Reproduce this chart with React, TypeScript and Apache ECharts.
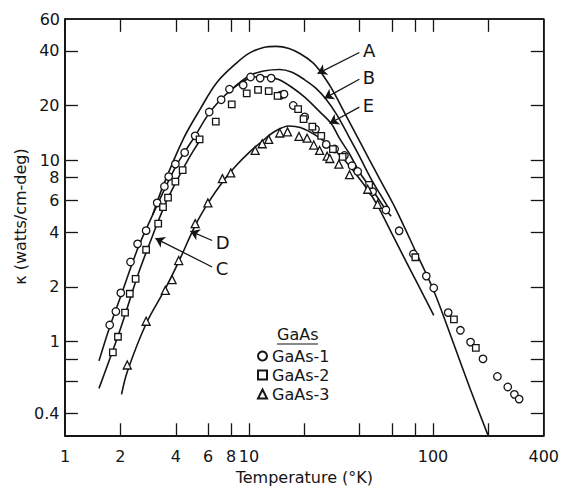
import React, { useEffect, useRef } from "react";
import * as echarts from "echarts";

const FONT = "DejaVu Sans";
const INK = "#151515";

// layout
const W = 562;
const H = 490;
const GRID = { left: 65, right: 16, top: 19, bottom: 49 };
const TICK_LEN = 13;

// axis ranges, ticks and labels
const X_MIN = 1;
const X_MAX = 400;
const Y_MIN = 0.3;
const Y_MAX = 60;
const xTickValues = [2, 4, 6, 8, 10, 20, 40, 60, 80, 100, 200];
const yTickValues = [0.4, 0.6, 0.8, 1, 2, 4, 6, 8, 10, 20, 40];
// labels not produced by the log axis itself (it gives 1, 10, 100, 400 and 1, 10, 60)
const xExtraLabels = [2, 4, 6, 8];
const yExtraLabels = [0.4, 2, 4, 6, 8, 20, 40];

// measured data  [T (K), kappa]
const gaas1 = [
  [1.75, 1.23], [1.89, 1.46], [2.01, 1.85], [2.27, 2.74], [2.48, 3.45], [2.76, 4.08],
  [3.17, 5.8], [3.47, 7.15], [3.66, 8.1], [3.98, 9.5], [4.47, 11.0], [5.1, 13.6],
  [6.08, 18.4], [7.06, 21.5], [7.83, 24.6], [9.3, 25.9], [10.2, 28.7], [11.5, 28.3],
  [13.2, 28.3], [14.9, 22.8], [15.5, 23.1], [17.4, 20.0], [20.1, 17.3], [23.0, 14.8],
  [26.3, 12.2], [29.2, 11.5], [33.0, 10.6], [36.3, 9.3], [39.0, 8.65], [47, 6.7],
  [55.5, 5.3], [65.5, 4.07], [78.3, 3.03], [92, 2.29], [101, 1.97], [121, 1.44],
  [141, 1.15], [160, 0.99], [187, 0.8], [224, 0.64], [255, 0.56], [277, 0.51], [294, 0.48],
];
const gaas2 = [
  [1.82, 0.87], [1.94, 1.06], [2.12, 1.44], [2.25, 1.83], [2.42, 2.21], [2.76, 3.2],
  [3.21, 4.46], [3.41, 5.5], [3.63, 6.2], [3.98, 7.6], [4.36, 8.8], [5.39, 13.0],
  [6.6, 16.3], [8.06, 20.3], [9.72, 23.3], [11.2, 24.4], [12.8, 24.0], [14.3, 22.6],
  [18.5, 19.1], [19.8, 16.8], [22.1, 15.3], [24.7, 13.6], [28.6, 11.5], [32.3, 10.4],
  [45, 7.3], [80.2, 2.91], [130, 1.32], [171, 0.92],
];
const gaas3 = [
  [2.18, 0.74], [2.76, 1.29], [3.51, 1.91], [3.82, 2.19], [4.15, 2.79], [5.1, 4.46],
  [5.98, 5.8], [7.17, 7.9], [7.96, 8.5], [10.8, 11.3], [11.8, 12.3], [12.8, 13.0],
  [14.7, 14.1], [16.2, 14.3], [18.7, 13.5], [20.7, 13.2], [22.5, 12.1], [24.2, 11.3],
  [26.6, 10.5], [27.5, 10.2], [30.8, 9.5], [35.2, 8.3], [44.2, 6.9], [50, 5.7],
];

// computed curves
const curveA = [
  [3.0, 5.0], [3.43, 7.3], [4.4, 13.1], [5.43, 19.1], [6.69, 26.8], [8.58, 34.4],
  [10.1, 39], [12, 41.8], [14.1, 42.4], [16.5, 41.3], [19, 38.6], [22.3, 34.4],
  [24.2, 31.2], [28, 25], [33.7, 17.6], [39, 13.3], [45, 10.1], [51.2, 7.9],
  [62.6, 5.4], [80.9, 3.1], [101, 1.9], [130, 0.96], [160, 0.54], [200, 0.3],
];
const curveB = [
  [8.0, 24.4], [9.0, 27.0], [10.1, 29.3], [12, 31.0], [14.7, 31.6], [17, 30.6],
  [20, 27.8], [23, 25], [26.3, 21.6], [30, 17.8], [35, 13.4], [40, 10.4],
  [46, 7.9], [52, 6.4], [57.6, 5.4],
];
const curveE = [
  [1.53, 0.78], [1.75, 1.2], [2.0, 1.75], [2.5, 3.3], [3.0, 5.0], [3.5, 7.0],
  [4.0, 9.2], [4.5, 11.2], [5.1, 13.6], [6.0, 17.8], [7.0, 21.5], [8.0, 24.4],
  [9.0, 26.6], [10.2, 28.4], [11.5, 28.9], [13.0, 28.6], [14.5, 27.8], [17, 25.3],
  [20, 22.3], [24.2, 18.5], [28, 15.9], [31, 13.2], [35, 10.9], [40.7, 8.3],
  [48, 6.6], [55.5, 5.3], [59.3, 4.9],
];
const curveC = [
  [1.53, 0.55], [2.0, 1.17], [2.5, 2.35], [3.0, 3.85], [3.5, 5.7], [4.0, 7.5],
  [4.5, 9.4], [5.0, 11.3], [5.5, 13.1],
];
const curveD = [
  [2.03, 0.51], [2.18, 0.68], [2.76, 1.25], [3.51, 1.95], [4.15, 2.75], [5.1, 4.35],
  [6.0, 5.8], [7.2, 7.6], [8.5, 9.3], [10, 11.0], [12, 12.9], [14, 14.5],
  [16.5, 15.4], [19, 15.1], [23.3, 13.6], [28, 11.8], [33, 10.0], [38, 8.4],
  [44, 6.9], [50, 5.6], [60, 3.9], [75, 2.5], [90, 1.75], [101, 1.39],
];

// annotation arrows (label, from, to) in data units
const annLabels = ["A", "B", "E", "D", "C"];
const annFrom = [[39.8, 39.2], [39.8, 27.9], [39.8, 19.6], [6.31, 3.6], [6.31, 2.57]];
const annTo = [[23.6, 30.0], [25.7, 21.9], [27.4, 15.9], [4.8, 4.05], [3.1, 3.7]];

const fmt = (v: number) => String(Number(Number(v).toPrecision(3)));

// tick length expressed as a multiplicative factor along each log axis
const pxPerDecX = (W - GRID.left - GRID.right) / Math.log10(X_MAX / X_MIN);
const pxPerDecY = (H - GRID.top - GRID.bottom) / Math.log10(Y_MAX / Y_MIN);
const kX = Math.pow(10, TICK_LEN / pxPerDecX);
const kY = Math.pow(10, TICK_LEN / pxPerDecY);

function seg(a: number[], b: number[], width: number) {
  return [{ coord: a, lineStyle: { width } }, { coord: b }];
}

const frameSegments = [
  seg([X_MIN, Y_MIN], [X_MAX, Y_MIN], 1.5),
  seg([X_MIN, Y_MAX], [X_MAX, Y_MAX], 1.5),
  seg([X_MIN, Y_MIN], [X_MIN, Y_MAX], 1.5),
  seg([X_MAX, Y_MIN], [X_MAX, Y_MAX], 1.5),
  ...xTickValues.map((v) => seg([v, Y_MIN], [v, Y_MIN * kY], 1.3)),
  ...xTickValues.map((v) => seg([v, Y_MAX], [v, Y_MAX / kY], 1.3)),
  ...yTickValues.map((v) => seg([X_MIN, v], [X_MIN * kX, v], 1.3)),
  ...yTickValues.map((v) => seg([X_MAX, v], [X_MAX / kX, v], 1.3)),
];

function logAxis(extra: any) {
  return {
    type: "log",
    logBase: 10,
    splitLine: { show: false },
    minorTick: { show: false },
    minorSplitLine: { show: false },
    axisTick: { show: false },
    axisLine: { show: true, onZero: false, lineStyle: { color: INK, width: 1.5 } },
    ...extra,
  };
}

function curve(data: number[][], extra: any = {}) {
  return {
    type: "line",
    data,
    symbol: "none",
    showSymbol: false,
    smooth: 0.35,
    silent: true,
    z: 2,
    lineStyle: { color: INK, width: 1.6 },
    ...extra,
  };
}

function points(name: string, data: number[][], symbol: string, size: number) {
  return {
    type: "scatter",
    name,
    data,
    symbol,
    symbolSize: size,
    silent: true,
    z: 4,
    itemStyle: { color: "#ffffff", borderColor: INK, borderWidth: 1.3, opacity: 1 },
  };
}

export default function App() {
  const ref = useRef<HTMLDivElement>(null);
  useEffect(() => {
    const chart = echarts.init(ref.current!, null, { renderer: "svg" });
    const labelText = { fontFamily: FONT, fontSize: 16, color: INK };
    const option: any = {
      animation: false,
      textStyle: { fontFamily: FONT },
      grid: {
        ...GRID,
        containLabel: false,
        show: true,
        borderColor: INK,
        borderWidth: 1.5,
        backgroundColor: "rgba(0,0,0,0)",
      },
      xAxis: logAxis({
        min: X_MIN,
        max: X_MAX,
        position: "bottom",
        name: "Temperature (°K)",
        nameLocation: "middle",
        nameGap: 28,
        nameTextStyle: { fontFamily: FONT, fontSize: 16, color: INK },
        axisLabel: { show: true, margin: 12, ...labelText, formatter: fmt },
      }),
      yAxis: logAxis({
        min: Y_MIN,
        max: Y_MAX,
        position: "left",
        name: "κ (watts/cm-deg)",
        nameLocation: "middle",
        nameRotate: 90,
        nameGap: 26,
        nameTextStyle: { fontFamily: FONT, fontSize: 16, color: INK, padding: [0, 0, 0, 22] },
        axisLabel: {
          show: true,
          margin: 5,
          ...labelText,
          formatter: (v: number) => (v < 0.35 ? "" : fmt(v)),
        },
      }),
      legend: {
        data: ["GaAs-1", "GaAs-2", "GaAs-3"],
        orient: "vertical",
        left: 257,
        top: 348,
        padding: 0,
        itemGap: 3,
        itemWidth: 9,
        itemHeight: 9,
        selectedMode: false,
        textStyle: { fontFamily: FONT, fontSize: 16, color: INK },
      },
      graphic: [
        { type: "text", left: 277, top: 326, style: { text: "GaAs", font: `16px "${FONT}"`, fill: INK } },
        { type: "line", shape: { x1: 277, y1: 344, x2: 318, y2: 344 }, style: { stroke: INK, lineWidth: 1.2 } },
      ],
      series: [
        curve(curveA, {
          markLine: {
            silent: true,
            symbol: ["none", "arrow"],
            symbolSize: 9,
            lineStyle: { color: INK, width: 1.3, type: "solid" },
            label: {
              show: true,
              position: "start",
              formatter: "{b}",
              fontFamily: FONT,
              fontSize: 18,
              color: INK,
              distance: 4,
            },
            data: annLabels.map((n, i) => [
              { name: n, coord: annFrom[i] },
              { coord: annTo[i] },
            ]),
          },
        }),
        curve(curveB),
        curve(curveE),
        curve(curveC),
        curve(curveD, {
          clip: false,
          markPoint: {
            silent: true,
            symbol: "circle",
            symbolSize: 1,
            itemStyle: { color: "rgba(0,0,0,0)" },
            label: { show: true, formatter: "{b}", ...labelText },
            data: [
              ...xExtraLabels.map((v) => ({
                name: fmt(v),
                coord: [v, Y_MIN],
                label: { position: "bottom", distance: 12 },
              })),
              ...yExtraLabels.map((v) => ({
                name: fmt(v),
                coord: [X_MIN, v],
                label: { position: "left", distance: 5 },
              })),
            ],
          },
          // plot frame and inward ticks on all four sides
          markLine: {
            silent: true,
            symbol: ["none", "none"],
            label: { show: false },
            lineStyle: { color: INK, width: 1.3, type: "solid" },
            data: frameSegments,
          },
        }),
        points("GaAs-1", gaas1, "circle", 7.5),
        points("GaAs-2", gaas2, "rect", 6.5),
        points("GaAs-3", gaas3, "triangle", 8),
      ],
    };
    chart.setOption(option);
    return () => chart.dispose();
  }, []);
  return (
    <div
      ref={ref}
      style={{ position: "fixed", left: 0, top: 0, width: W, height: H, background: "#fff" }}
    />
  );
}
